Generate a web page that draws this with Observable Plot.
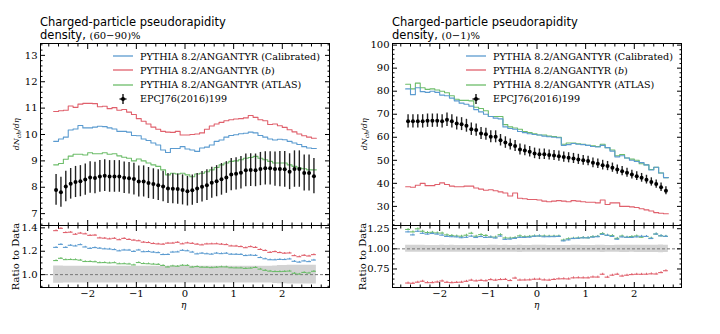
<!DOCTYPE html>
<html><head><meta charset="utf-8">
<script src="https://cdn.jsdelivr.net/npm/d3@7"></script>
<script src="https://cdn.jsdelivr.net/npm/@observablehq/plot@0.6"></script>
<style>
body{margin:0;background:#fff;}
#root{position:relative;width:720px;height:334px;overflow:hidden;background:#fff;}
.abs{position:absolute;}
.title{font-family:"DejaVu Sans";font-size:11.5px;line-height:12.5px;color:#000;white-space:nowrap;}
.title .m{font-family:"DejaVu Serif";font-size:10px;}
.leg{font-family:"DejaVu Serif";font-size:9.6px;color:#000;white-space:nowrap;}
.leg .row{position:absolute;left:0;height:14px;display:flex;align-items:center;}
.leg svg{margin-right:7px;}
.ylab{font-family:"DejaVu Serif";white-space:nowrap;transform-origin:center;}
</style></head>
<body><div id="root"></div>
<script>
// ---------- data ----------
const eta = [-2.65,-2.55,-2.45,-2.35,-2.25,-2.15,-2.05,-1.95,-1.85,-1.75,-1.65,-1.55,-1.45,-1.35,-1.25,-1.15,-1.05,-0.95,-0.85,-0.75,-0.65,-0.55,-0.45,-0.35,-0.25,-0.15,-0.05,0.05,0.15,0.25,0.35,0.45,0.55,0.65,0.75,0.85,0.95,1.05,1.15,1.25,1.35,1.45,1.55,1.65,1.75,1.85,1.95,2.05,2.15,2.25,2.35,2.45,2.55,2.65];

// (60-90)% centrality
const dataL = [7.90,7.81,8.03,8.13,8.20,8.23,8.29,8.37,8.35,8.41, 8.44,8.41,8.41,8.41,8.36,8.34,8.31,8.22,8.22,8.16, 8.12,8.08,8.03,7.95,7.94,7.93,7.90,7.85,7.89,7.95, 8.02,8.08,8.17,8.23,8.30,8.37,8.48,8.51,8.55,8.64, 8.65,8.64,8.69,8.72,8.72,8.69,8.69,8.68,8.59,8.69, 8.69,8.54,8.54,8.42];
const errL = [0.58,0.57,0.58,0.58,0.59,0.59,0.59,0.60,0.60,0.60, 0.60,0.60,0.60,0.60,0.60,0.60,0.60,0.59,0.59,0.59, 0.58,0.58,0.58,0.57,0.57,0.57,0.57,0.56,0.57,0.57, 0.58,0.58,0.59,0.59,0.60,0.60,0.61,0.61,0.62,0.62, 0.62,0.62,0.63,0.63,0.63,0.65,0.67,0.68,0.68,0.69, 0.69,0.68,0.68,0.67];
const calibL = [9.74,9.83,9.90,10.17,10.21,10.34,10.25,10.25,10.28,10.31, 10.30,10.25,10.21,10.12,10.12,10.09,9.96,9.95,9.83,9.77, 9.68,9.60,9.41,9.32,9.47,9.47,9.54,9.45,9.41,9.36, 9.49,9.52,9.60,9.74,9.79,9.90,9.96,9.99,10.03,10.05, 10.09,10.06,9.96,9.90,9.83,9.79,9.82,9.80,9.74,9.68, 9.62,9.54,9.49,9.47];
const bL = [10.87,10.90,10.92,11.08,11.03,11.15,11.18,11.18,11.17,11.05, 11.07,10.98,11.02,10.92,10.95,10.85,10.76,10.60,10.50,10.40, 10.28,10.20,10.12,10.09,10.08,10.12,9.98,9.98,10.00,10.02, 10.06,10.20,10.32,10.40,10.46,10.52,10.56,10.59,10.60,10.63, 10.72,10.65,10.56,10.52,10.38,10.40,10.33,10.27,10.18,10.10, 10.02,9.95,9.90,9.86];
const atlasL = [8.85,8.90,9.06,9.18,9.25,9.25,9.22,9.31,9.27,9.27, 9.31,9.25,9.27,9.19,9.14,9.10,9.00,9.07,9.00,8.92, 8.85,8.79,8.66,8.47,8.53,8.50,8.53,8.47,8.40,8.50, 8.53,8.59,8.66,8.75,8.85,8.92,8.98,9.00,9.04,9.10, 9.13,9.17,9.10,9.04,8.98,8.92,8.92,8.92,8.85,8.79, 8.73,8.70,8.66,8.66];

// (0-1)% centrality
const dataR = [66.9,66.9,66.9,66.9,67.2,67.2,67.2,66.9,67.6,66.9, 66.0,65.7,65.0,63.5,63.1,61.6,61.3,60.2,60.2,58.7, 57.7,56.9,56.2,54.7,54.3,53.7,53.0,52.6,52.6,52.3, 52.1,51.8,51.4,51.1,50.8,50.4,50.0,49.7,48.9,48.5, 47.9,47.5,46.8,46.0,45.3,44.6,43.8,43.1,42.4,41.6, 40.6,39.7,38.3,36.8];
const errR = [2.9,2.9,2.9,2.9,2.9,2.9,2.9,2.9,2.9,2.9, 2.8,2.8,2.8,2.7,2.7,2.6,2.6,2.6,2.6,2.5, 2.5,2.4,2.4,2.4,2.3,2.3,2.3,2.3,2.3,2.2, 2.2,2.2,2.2,2.2,2.2,2.2,2.1,2.1,2.1,2.1, 2.1,2.0,2.0,2.0,2.0,2.0,1.9,1.9,1.9,1.9, 1.8,1.8,1.8,1.7];
const calibR = [81.0,78.5,81.5,79.8,79.5,80.0,79.5,78.3,78.0,77.0, 75.8,74.8,74.3,73.5,72.0,71.0,70.0,69.0,68.3,68.0, 64.5,63.8,63.5,62.5,62.0,61.5,61.2,61.0,60.5,60.2, 60.0,59.8,56.5,56.8,57.3,57.0,56.8,56.5,56.0,55.8, 56.5,55.5,54.0,51.5,52.0,51.0,50.0,49.5,49.0,48.0, 45.8,47.0,44.5,42.5];
const bR = [38.5,38.3,39.2,40.0,39.0,39.0,39.5,40.2,39.5,38.8, 38.5,38.5,38.8,38.8,38.0,37.5,37.0,37.2,36.8,36.3, 35.8,34.5,35.8,33.5,33.3,33.0,33.0,32.8,32.3,32.0, 32.3,32.5,32.3,32.0,32.5,32.3,32.0,31.8,31.8,31.5, 32.8,30.8,31.5,31.5,30.0,30.0,29.8,29.5,29.0,28.5, 28.0,27.3,27.0,26.8];
const atlasR = [83.0,81.0,83.5,81.5,80.8,81.0,80.5,80.0,79.3,78.0, 76.5,76.0,76.0,75.8,73.0,72.5,71.5,69.0,69.0,69.0, 65.5,64.5,64.0,63.5,62.5,62.0,61.5,61.0,61.0,60.5, 60.3,60.0,57.0,57.5,57.5,57.2,57.0,56.5,56.3,56.0, 57.0,55.5,54.5,52.0,52.5,51.0,50.5,50.0,48.5,48.0, 46.0,47.0,44.5,42.5];

const ratioErrL = 0.006, ratioErrR = 0.012;

const seriesNames = ["PYTHIA 8.2/ANGANTYR (Calibrated)", "PYTHIA 8.2/ANGANTYR (b)", "PYTHIA 8.2/ANGANTYR (ATLAS)", "EPCJ76(2016)199"];
const colors = {calib: "#5b9bd0", b: "#e0606c", atlas: "#6dbd6a"};

// ---------- helpers ----------
const W = 289;
const edges = [...eta.map(e => e - 0.05), eta[eta.length - 1] + 0.05];
const xDomain = [-2.97, 2.97];
const xMajor = [-2, -1, 0, 1, 2];
const xMinor = d3.range(-2.8, 2.81, 0.2).map(v => +v.toFixed(1)).filter(v => Math.abs(v - Math.round(v)) > 1e-6);
const fmt = (d, n) => (d < 0 ? "\u2212" : "") + Math.abs(d).toFixed(n);
function stepRows(vals) { return edges.map((x, i) => ({x, y: vals[Math.min(i, vals.length - 1)]})); }
function minors(lo, hi, step, majors) {
  const out = [];
  for (let k = Math.ceil(lo / step - 1e-9); k * step <= hi + 1e-9; k++) {
    const v = +(k * step).toFixed(5);
    if (!majors.some(m => Math.abs(m - v) < 1e-6)) out.push(v);
  }
  return out;
}
function frameAxes({yMajor, yMinor, yFmt, xLabels}) {
  const t = [];
  t.push(Plot.frame({stroke: "#000", strokeWidth: 1}));
  for (const a of ["bottom", "top"]) {
    t.push(Plot.axisX(xMajor, {anchor: a, tickSize: -5, fill: "none", label: null}));
    t.push(Plot.axisX(xMinor, {anchor: a, tickSize: -2.5, fill: "none", label: null}));
  }
  for (const a of ["left", "right"]) {
    t.push(Plot.axisY(yMajor, {anchor: a, tickSize: -5, fill: "none", label: null}));
    t.push(Plot.axisY(yMinor, {anchor: a, tickSize: -2.5, fill: "none", label: null}));
  }
  t.push(Plot.axisY(yMajor, {anchor: "left", tickSize: 0, tickPadding: 3, tickFormat: yFmt, label: null}));
  if (xLabels) t.push(Plot.axisX(xMajor, {anchor: "bottom", tickSize: 0, tickPadding: 2, tickFormat: d => fmt(d, 0), label: null}));
  return t;
}
const ML = 40, MR = 10, MT = 5, MB = 25;
function makePlot({h, yDomain, marks, axes}) {
  return Plot.plot({
    width: W + ML + MR, height: h + MT + MB,
    marginLeft: ML, marginRight: MR, marginTop: MT, marginBottom: MB,
    x: {domain: xDomain}, y: {domain: yDomain},
    style: {fontFamily: "DejaVu Serif", fontSize: "10px", background: "transparent", overflow: "visible", color: "#000"},
    marks: [...marks, ...frameAxes(axes)]
  });
}
function place(el, left, top) {
  el.style.position = "absolute";
  el.style.left = (left - ML) + "px";
  el.style.top = (top - MT) + "px";
  document.getElementById("root").appendChild(el);
}
function mainMarks(data, err, calib, b, atlas) {
  const pts = eta.map((e, i) => ({x: e, y: data[i], lo: data[i] - err[i], hi: data[i] + err[i]}));
  return [
    Plot.line(stepRows(b), {x: "x", y: "y", curve: "step-after", stroke: colors.b, strokeWidth: 1.1}),
    Plot.line(stepRows(atlas), {x: "x", y: "y", curve: "step-after", stroke: colors.atlas, strokeWidth: 1.1}),
    Plot.line(stepRows(calib), {x: "x", y: "y", curve: "step-after", stroke: colors.calib, strokeWidth: 1.1}),
    Plot.ruleX(pts, {x: "x", y1: "lo", y2: "hi", stroke: "#222", strokeWidth: 1.4}),
    Plot.dot(pts, {x: "x", y: "y", r: 2, fill: "#000", stroke: "none"})
  ];
}
function ratioMarks(data, err, calib, b, atlas, rerr) {
  const band = edges.map((x, i) => { const k = Math.min(i, eta.length - 1); return {x, lo: 1 - err[k] / data[k], hi: 1 + err[k] / data[k]}; });
  const marks = [
    Plot.areaY(band, {x: "x", y1: "lo", y2: "hi", curve: "step-after", fill: "#d3d3d3"}),
    Plot.ruleY([1], {stroke: "#777", strokeDasharray: "3,2", strokeWidth: 1})
  ];
  for (const [vals, c] of [[b, colors.b], [atlas, colors.atlas], [calib, colors.calib]]) {
    const r = eta.map((e, i) => ({x: e, x1: e - 0.05, x2: e + 0.05, y: vals[i] / data[i]}));
    marks.push(Plot.ruleY(r, {y: "y", x1: "x1", x2: "x2", stroke: c, strokeWidth: 1.1}));
    marks.push(Plot.ruleX(r, {x: "x", y1: d => d.y - rerr, y2: d => d.y + rerr, stroke: c, strokeWidth: 1}));
  }
  return marks;
}

// ---------- panels ----------
const TOP = 43, MAINH = 182, RATIOH = 62, LX = 40, RX = 392;

place(makePlot({h: MAINH, yDomain: [6.55, 13.45], marks: mainMarks(dataL, errL, calibL, bL, atlasL),
  axes: {yMajor: [7, 8, 9, 10, 11, 12, 13], yMinor: minors(6.6, 13.4, 0.2, [7, 8, 9, 10, 11, 12, 13]), yFmt: d => fmt(d, 0), xLabels: false}}), LX, TOP);
place(makePlot({h: RATIOH, yDomain: [0.89, 1.42], marks: ratioMarks(dataL, errL, calibL, bL, atlasL, ratioErrL),
  axes: {yMajor: [1.0, 1.2, 1.4], yMinor: minors(0.9, 1.42, 0.05, [1.0, 1.2, 1.4]), yFmt: d => fmt(d, 1), xLabels: true}}), LX, TOP + MAINH);
place(makePlot({h: MAINH, yDomain: [21.7, 100.7], marks: mainMarks(dataR, errR, calibR, bR, atlasR),
  axes: {yMajor: [30, 40, 50, 60, 70, 80, 90, 100], yMinor: minors(22, 100.7, 2, [30, 40, 50, 60, 70, 80, 90, 100]), yFmt: d => fmt(d, 0), xLabels: false}}), RX, TOP);
place(makePlot({h: RATIOH, yDomain: [0.52, 1.29], marks: ratioMarks(dataR, errR, calibR, bR, atlasR, ratioErrR),
  axes: {yMajor: [0.75, 1.0, 1.25], yMinor: minors(0.5625, 1.29, 0.0625, [0.75, 1.0, 1.25]), yFmt: d => fmt(d, 2), xLabels: true}}), RX, TOP + MAINH);

// ---------- text ----------
const root = document.getElementById("root");
function addDiv(html, cls, style) {
  const d = document.createElement("div");
  d.className = "abs " + cls;
  d.innerHTML = html;
  Object.assign(d.style, style);
  root.appendChild(d);
  return d;
}
addDiv('Charged-particle pseudorapidity<br>density, <span class="m">(60\u221290)%</span>', "title", {left: LX + "px", top: "16px"});
addDiv('Charged-particle pseudorapidity<br>density, <span class="m">(0\u22121)%</span>', "title", {left: RX + "px", top: "16px"});

function legend(left, top) {
  const d = addDiv("", "leg", {left: left + "px", top: top + "px"});
  const sw = c => `<svg width="20" height="10"><line x1="0" x2="20" y1="5" y2="5" stroke="${c}" stroke-width="1.3"/></svg>`;
  const dataSw = `<svg width="20" height="10"><line x1="10" x2="10" y1="0" y2="10" stroke="#000" stroke-width="1.3"/><line x1="6.5" x2="13.5" y1="5" y2="5" stroke="#000" stroke-width="1.3"/><circle cx="10" cy="5" r="2" fill="#000"/></svg>`;
  const rows = [
    [sw(colors.calib), seriesNames[0]],
    [sw(colors.b), "PYTHIA 8.2/ANGANTYR (<i>b</i>)"],
    [sw(colors.atlas), seriesNames[2]],
    [dataSw, seriesNames[3]]
  ];
  d.innerHTML = rows.map((r, i) => `<div class="row" style="top:${i * 14.3}px">${r[0]}<span>${r[1]}</span></div>`).join("");
}
legend(113, 49);
legend(466, 49);

function ylabel(html, cx, cy, size) {
  const d = addDiv(html, "ylab", {fontSize: size + "px"});
  const w = d.offsetWidth, h = d.offsetHeight;
  d.style.left = (cx - w / 2) + "px";
  d.style.top = (cy - h / 2) + "px";
  d.style.transform = "rotate(-90deg)";
}
const dn = '<i>dN</i><sub style="font-size:6px;font-style:italic">ch</sub>/<i>d\u03b7</i>';
ylabel(dn, 17, 134, 8);
ylabel(dn, 365, 134, 8);
ylabel("Ratio to Data", 15, 256, 10);
ylabel("Ratio to Data", 362, 256, 10);
addDiv("<i>\u03b7</i>", "ylab", {left: "181px", top: "300px", fontSize: "9px"});
addDiv("<i>\u03b7</i>", "ylab", {left: "534px", top: "300px", fontSize: "9px"});
</script></body></html>
